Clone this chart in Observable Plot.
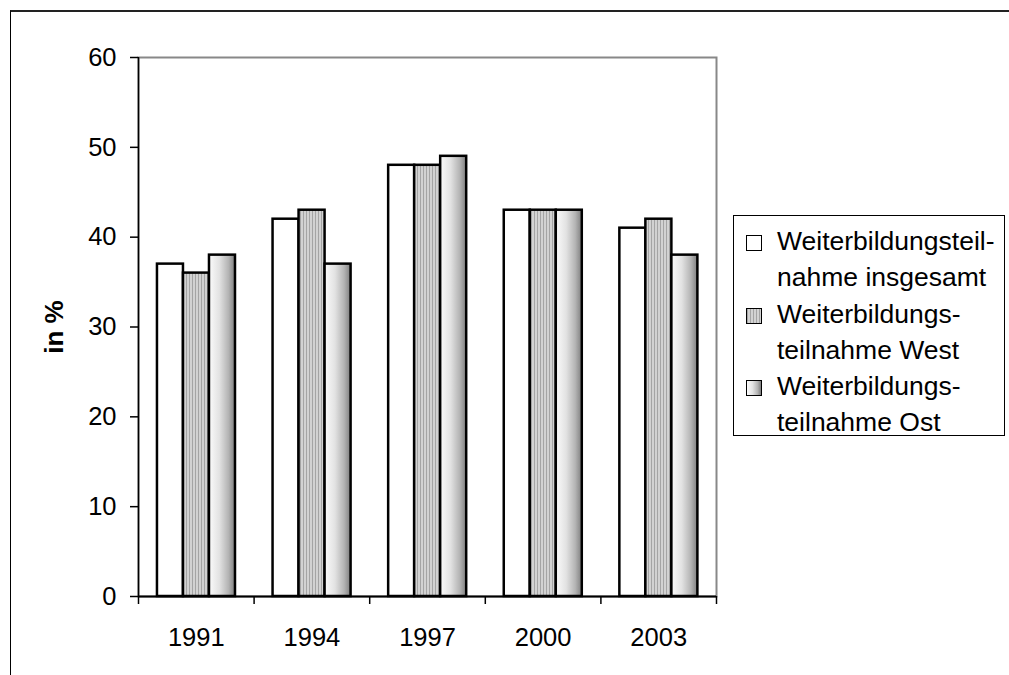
<!DOCTYPE html>
<html>
<head>
<meta charset="utf-8">
<script src="https://cdn.jsdelivr.net/npm/d3@7"></script>
<script src="https://cdn.jsdelivr.net/npm/@observablehq/plot@0.6"></script>
<style>
  html, body { margin: 0; padding: 0; background: #fff; }
  #wrap { position: relative; width: 1009px; height: 675px; overflow: hidden; font-family: "Liberation Sans", Arial, sans-serif; }
  #wrap svg { position: absolute; left: 0; top: 0; }
  #outer { position: absolute; left: 10px; top: 10px; width: 1200px; height: 900px; border-top: 2px solid #222; border-left: 1px solid #000; }
  #legend { position: absolute; left: 733px; top: 215px; width: 272px; height: 221px; border: 1px solid #000; box-sizing: border-box; padding-top: 7px; background: #fff; }
  .item { position: relative; padding-left: 43px; font-size: 26.5px; line-height: 36.3px; color: #000; white-space: nowrap; }
  .sw { position: absolute; left: 12px; top: 12px; width: 16px; height: 16px; border: 1.5px solid #000; box-sizing: border-box; }
</style>
</head>
<body>
<div id="wrap">
  <div id="outer"></div>
</div>
<script>
// ---- data ----
const years = ["1991", "1994", "1997", "2000", "2003"];
const seriesNames = ["Weiterbildungsteilnahme insgesamt", "Weiterbildungsteilnahme West", "Weiterbildungsteilnahme Ost"];
const insgesamt = [37, 42, 48, 43, 41];
const west = [36, 43, 48, 43, 42];
const ost = [38, 37, 49, 43, 38];
const yTicks = [0, 10, 20, 30, 40, 50, 60];
const legendLines = [
  ["Weiterbildungsteil-", "nahme insgesamt"],
  ["Weiterbildungs-", "teilnahme West"],
  ["Weiterbildungs-", "teilnahme Ost"]
];
const yLabel = "in %";

// ---- table ----
const seriesValues = [insgesamt, west, ost];
const rows = [];
years.forEach((yr, i) => {
  seriesNames.forEach((s, j) => rows.push({year: yr, yi: i, si: j, series: s, value: seriesValues[j][i]}));
});

// layout within a category band (fractions of one band)
const groupPad = 0.164, barW = 0.225;
const fills = ["#ffffff", "url(#westPat)", "url(#ostGrad)"];

const plot = Plot.plot({
  width: 1009,
  height: 675,
  marginLeft: 138,
  marginRight: 293,
  marginTop: 57,
  marginBottom: 79,
  style: {fontFamily: '"Liberation Sans", Arial, sans-serif', background: "transparent", color: "#000"},
  x: {type: "linear", domain: [0, years.length], axis: null},
  y: {domain: [0, 60], axis: null},
  marks: [
    Plot.frame({stroke: "#888", strokeWidth: 2}),
    Plot.rectY(rows, {
      x1: d => d.yi + groupPad + d.si * barW,
      x2: d => d.yi + groupPad + (d.si + 1) * barW,
      y: "value",
      fill: d => fills[d.si],
      stroke: "#000",
      strokeWidth: 2.5
    }),
    Plot.ruleY([0], {stroke: "#000", strokeWidth: 2}),
    Plot.ruleX([0], {stroke: "#000", strokeWidth: 1.5}),
    Plot.axisY({ticks: yTicks, tickSize: 8, tickPadding: 14, fontSize: 25.5, label: null, strokeWidth: 1.5}),
    Plot.axisX({ticks: d3.range(0, years.length + 1), tickSize: 8, tickFormat: () => "", label: null, strokeWidth: 1.5}),
    Plot.axisX({ticks: years.map((_, i) => i + 0.5), tickSize: 0, tickPadding: 31, fontSize: 25.5, label: null,
      tickFormat: v => years[Math.floor(v)]}),
    Plot.text([yLabel], {frameAnchor: "left", textAnchor: "middle", rotate: -90, dx: -84, fontWeight: "bold", fontSize: 26, fill: "#000"})
  ]
});

plot.insertAdjacentHTML("afterbegin", `
<defs>
  <pattern id="westPat" patternUnits="userSpaceOnUse" width="3" height="4">
    <rect x="0" y="0" width="3" height="4" fill="#d2d2d2"></rect>
    <rect x="0" y="0" width="1" height="4" fill="#a4a4a4"></rect>
  </pattern>
  <linearGradient id="ostGrad" x1="0" y1="0" x2="1" y2="0">
    <stop offset="0" stop-color="#fbfbfb"></stop>
    <stop offset="0.4" stop-color="#e2e2e2"></stop>
    <stop offset="0.75" stop-color="#b4b4b4"></stop>
    <stop offset="1" stop-color="#7e7e7e"></stop>
  </linearGradient>
</defs>`);

const wrap = document.getElementById("wrap");
wrap.appendChild(plot);

// legend
const swatchBg = [
  "#ffffff",
  "repeating-linear-gradient(90deg, #a4a4a4 0px, #a4a4a4 1px, #d2d2d2 1px, #d2d2d2 3px)",
  "linear-gradient(90deg, #fbfbfb 0%, #e2e2e2 40%, #b4b4b4 75%, #7e7e7e 100%)"
];
const legend = document.createElement("div");
legend.id = "legend";
legendLines.forEach((lines, j) => {
  const item = document.createElement("div");
  item.className = "item";
  item.title = seriesNames[j];
  const sw = document.createElement("div");
  sw.className = "sw";
  sw.style.background = swatchBg[j];
  item.appendChild(sw);
  lines.forEach((t, k) => {
    if (k) item.appendChild(document.createElement("br"));
    item.appendChild(document.createTextNode(t));
  });
  legend.appendChild(item);
});
wrap.appendChild(legend);
</script>
</body>
</html>
